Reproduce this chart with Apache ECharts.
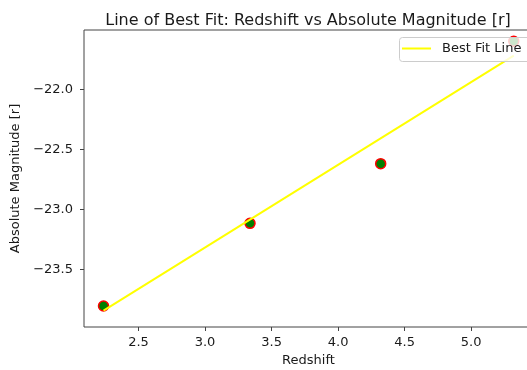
<!DOCTYPE html>
<html><head><meta charset="utf-8">
<script src="https://cdn.jsdelivr.net/npm/echarts@6/dist/echarts.min.js"></script>
<style>html,body{margin:0;padding:0;background:#fff}#c{width:527px;height:370px}</style>
</head><body><div id="c"></div>
<script>
const redshift = [2.237, 3.338, 4.32, 5.32];
const absMag = [-23.806, -23.117, -22.62, -21.60];
const fitX = [2.237, 5.32];
const fitY = [-23.845, -21.72];
const xTicks = [2.5, 3.0, 3.5, 4.0, 4.5, 5.0];
const yTicks = [-23.5, -23.0, -22.5, -22.0];
const titleText = 'Line of Best Fit: Redshift vs Absolute Magnitude [r]';
const xName = 'Redshift';
const yName = 'Absolute Magnitude [r]';
const legendName = 'Best Fit Line';

const FONT = 'DejaVu Sans';
const fmt = v => Number(v).toFixed(1).replace('-', '\u2212');
const chart = echarts.init(document.getElementById('c'), null, {renderer: 'canvas'});
chart.setOption({
  animation: false,
  backgroundColor: '#ffffff',
  title: {
    text: titleText, left: 303, top: 8, textAlign: 'center',
    textStyle: {fontFamily: FONT, fontSize: 16, fontWeight: 'normal', color: '#1a1a1a'}
  },
  graphic: {
    zlevel: 1, z: 1,
    elements: [{
      type: 'rect', zlevel: 1, z: 1, silent: true,
      shape: {x: 399.5, y: 37.5, width: 150, height: 24, r: 3},
      style: {fill: 'rgba(255,255,255,0.8)', stroke: '#cccccc', lineWidth: 1}
    }]
  },
  legend: {
    data: [{name: legendName, icon: 'rect'}],
    left: 399, top: 37, itemWidth: 29, itemHeight: 2,
    padding: [5, 0, 5, 3], zlevel: 1, z: 10,
    textStyle: {fontFamily: FONT, fontSize: 13, color: '#1a1a1a', padding: [0, 0, 0, 6]}
  },
  grid: {left: 84, top: 30, right: -6, bottom: 43, outerBoundsMode: 'none', containLabel: false,
    show: true, borderColor: '#444', borderWidth: 1, backgroundColor: 'transparent'},
  xAxis: {
    type: 'value', min: 2.0904, max: 5.4646,
    name: xName, nameLocation: 'middle', nameGap: 26,
    nameTextStyle: {fontFamily: FONT, fontSize: 13, color: '#1a1a1a'},
    axisLine: {show: false}, splitLine: {show: false},
    axisTick: {show: true, length: 4, inside: false, customValues: xTicks, lineStyle: {color: '#444'}},
    axisLabel: {customValues: xTicks, formatter: fmt, margin: 9, fontFamily: FONT, fontSize: 13, color: '#1a1a1a'}
  },
  yAxis: {
    type: 'value', min: -23.981, max: -21.506,
    name: yName, nameLocation: 'middle', nameGap: 56, nameRotate: 90,
    nameTextStyle: {fontFamily: FONT, fontSize: 13, color: '#1a1a1a'},
    axisLine: {show: false}, splitLine: {show: false},
    axisTick: {show: true, length: 4, inside: false, customValues: yTicks, lineStyle: {color: '#444'}},
    axisLabel: {customValues: yTicks, formatter: fmt, margin: 11, fontFamily: FONT, fontSize: 13, color: '#1a1a1a'}
  },
  series: [
    {
      name: 'Data', type: 'scatter', z: 2,
      data: redshift.map((x, i) => [x, absMag[i]]),
      symbolSize: 10,
      itemStyle: {color: '#008000', borderColor: '#ff0000', borderWidth: 1.5, opacity: 1}
    },
    {
      name: legendName, type: 'line', z: 3,
      data: fitX.map((x, i) => [x, fitY[i]]),
      showSymbol: false, symbol: 'none',
      lineStyle: {color: '#ffff00', width: 2},
      itemStyle: {color: '#ffff00'}
    }
  ]
});
</script></body></html>
